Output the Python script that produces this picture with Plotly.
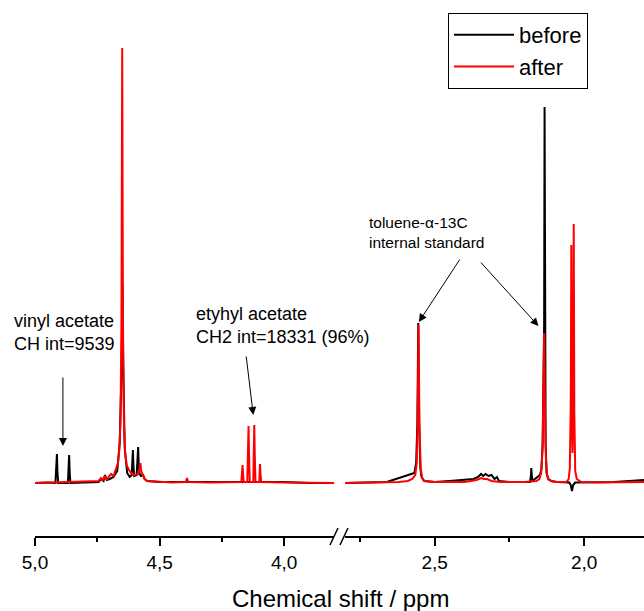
import plotly.graph_objects as go

# ---------------- data ----------------
# intensities in arbitrary units, baseline = 0
before_left_ppm = [5.00, 4.95, 4.918, 4.914, 4.912, 4.910, 4.907, 4.868, 4.865, 4.863, 4.861, 4.858,
                   4.80, 4.745, 4.735, 4.725, 4.719, 4.712, 4.70, 4.685, 4.67, 4.66, 4.652, 4.649,
                   4.646, 4.64, 4.63, 4.62, 4.612, 4.609, 4.607, 4.605, 4.602, 4.592, 4.589, 4.586,
                   4.584, 4.580, 4.575, 4.566, 4.56, 4.55, 4.50, 4.40, 4.20, 4.00, 3.90, 3.80]
before_left_int = [0, 0.5, 0, 14, 29, 12, 0, 0, 14, 28, 12, 0,
                   0.5, 1, 4, 2, 8, 3, 4, 6, 12, 40, 120, 200,
                   120, 35, 10, 6, 8, 20, 33, 18, 7, 8, 22, 36,
                   20, 9, 7, 8, 4, 2, 1, 1, 0.5, 1, 0, 0]

after_left_ppm = [5.00, 4.90, 4.80, 4.745, 4.735, 4.728, 4.72, 4.712, 4.705, 4.695, 4.685, 4.675,
                  4.667, 4.662, 4.657, 4.653, 4.650, 4.647, 4.643, 4.638, 4.632, 4.625, 4.615, 4.60,
                  4.585, 4.580, 4.577, 4.574, 4.568, 4.56, 4.55, 4.50, 4.45, 4.395, 4.390, 4.385,
                  4.30, 4.172, 4.169, 4.167, 4.165, 4.162, 4.148, 4.145, 4.143, 4.141, 4.138,
                  4.124, 4.122, 4.120, 4.118, 4.115, 4.100, 4.098, 4.097, 4.095, 4.092,
                  4.00, 3.90, 3.80]
after_left_int = [0, 0.5, 1, 2, 5, 3, 7, 3, 6, 9, 7, 14,
                  20, 32, 60, 160, 435, 160, 60, 30, 18, 14, 10, 8,
                  9, 14, 20, 12, 8, 4, 2, 1, 0.5, 1, 5, 1,
                  0.5, 1, 10, 18, 9, 1, 1, 30, 57, 28, 1,
                  1, 30, 58, 28, 1, 1, 10, 19, 9, 1,
                  0.5, 0, 0]

before_right_ppm = [2.80, 2.70, 2.66, 2.64, 2.62, 2.60, 2.585, 2.568, 2.562, 2.558, 2.555, 2.552,
                    2.548, 2.544, 2.535, 2.50, 2.45, 2.40, 2.37, 2.355, 2.345, 2.338, 2.33, 2.32,
                    2.31, 2.30, 2.292, 2.285, 2.25, 2.20, 2.181, 2.178, 2.177, 2.175, 2.172, 2.165,
                    2.155, 2.148, 2.143, 2.139, 2.136, 2.134, 2.1325, 2.131, 2.129, 2.126, 2.12,
                    2.11, 2.09, 2.05, 2.045, 2.041, 2.037, 2.03, 1.98, 1.90, 1.85, 1.82, 1.80]
before_right_int = [0, 0.5, 1, 3, 5, 7, 8, 10, 20, 60, 160, 60,
                    15, 6, 2, 1, 2, 3, 4, 6, 9, 7, 9, 7,
                    8, 4, 6, 2, 1, 1, 1, 8, 15, 6, 2, 4,
                    6, 8, 14, 40, 110, 160, 376, 150, 40, 10, 4,
                    2, 1, 0.5, -2, -8, -2, 0.5, 0.5, 1, 2, 3, 3]

after_right_ppm = [2.80, 2.70, 2.62, 2.59, 2.575, 2.565, 2.560, 2.557, 2.554, 2.551, 2.547, 2.542,
                   2.535, 2.50, 2.40, 2.36, 2.345, 2.335, 2.325, 2.31, 2.28, 2.20, 2.16, 2.15,
                   2.144, 2.139, 2.136, 2.134, 2.131, 2.128, 2.124, 2.118, 2.10, 2.06, 2.052, 2.048,
                   2.045, 2.043, 2.041, 2.039, 2.037, 2.035, 2.033, 2.030, 2.025, 2.01, 1.95, 1.85, 1.80]
after_right_int = [0, 0.5, 1, 2, 4, 8, 20, 60, 158, 60, 15, 5,
                   2, 1, 1, 3, 5, 4, 4, 2, 1, 1, 2, 4,
                   10, 35, 90, 150, 70, 25, 8, 3, 1, 1, 4, 15,
                   80, 238, 60, 30, 80, 259, 70, 12, 4, 1, 0.5, 1, 1]

left_tick_vals = [5.0, 4.5, 4.0]
left_tick_text = ["5,0", "4,5", "4,0"]
left_minor_vals = [4.75, 4.25]
right_tick_vals = [2.5, 2.0]
right_tick_text = ["2,5", "2,0"]
right_minor_vals = [2.75, 2.25]

series_names = ["before", "after"]
series_colors = ["#000000", "#ff0000"]

# ---------------- figure ----------------
W, H = 644, 611
FONT = "Liberation Sans, Arial, Helvetica, sans-serif"
PLOT_BOTTOM = 536  # pixel row of the x axis
BOTTOM_MARGIN = H - PLOT_BOTTOM


def py2paper(py):
    return (PLOT_BOTTOM - py) / PLOT_BOTTOM


fig = go.Figure()

data_sets = [
    (before_left_ppm, before_left_int, before_right_ppm, before_right_int),
    (after_left_ppm, after_left_int, after_right_ppm, after_right_int),
]
for (lx, ly, rx, ry), name, color in zip(data_sets, series_names, series_colors):
    fig.add_trace(go.Scatter(x=lx, y=ly, xaxis="x", yaxis="y", mode="lines", name=name,
                             legendgroup=name, showlegend=True,
                             line=dict(color=color, width=2)))
    fig.add_trace(go.Scatter(x=rx, y=ry, xaxis="x2", yaxis="y", mode="lines", name=name,
                             legendgroup=name, showlegend=False,
                             line=dict(color=color, width=2)))

axis_common = dict(
    showline=True, linecolor="black", linewidth=1.5,
    ticks="outside", ticklen=8, tickwidth=1.5, tickcolor="black",
    showgrid=False, zeroline=False, anchor="y", automargin=False,
    tickfont=dict(family=FONT, size=19, color="black"),
)

fig.update_layout(
    template="none",
    width=W, height=H, autosize=False,
    margin=dict(l=0, r=0, t=0, b=BOTTOM_MARGIN, pad=0, autoexpand=False),
    paper_bgcolor="white", plot_bgcolor="white",
    font=dict(family=FONT, color="black"),
    xaxis=dict(domain=[35 / W, 334 / W], range=[5.0, 3.8], tickmode="array",
               tickvals=left_tick_vals, ticktext=left_tick_text,
               minor=dict(tickmode="array", tickvals=left_minor_vals, ticks="outside",
                          ticklen=4, tickwidth=1.5, tickcolor="black"),
               **axis_common),
    xaxis2=dict(domain=[345 / W, 1.0], range=[2.8, 1.8], tickmode="array",
                tickvals=right_tick_vals, ticktext=right_tick_text,
                minor=dict(tickmode="array", tickvals=right_minor_vals, ticks="outside",
                           ticklen=4, tickwidth=1.5, tickcolor="black"),
                **axis_common),
    yaxis=dict(domain=[0, 1], range=[-53, 483], visible=False, fixedrange=True,
               automargin=False),
    showlegend=True,
    legend=dict(x=448 / W, y=py2paper(13), xanchor="left", yanchor="top",
                bordercolor="black", borderwidth=1, bgcolor="white",
                font=dict(family=FONT, size=22, color="black"),
                itemwidth=60, tracegroupgap=0),
)

# axis break marks "//"
for x0, x1 in [(330, 338), (340, 348)]:
    fig.add_shape(type="line", xref="paper", yref="paper",
                  x0=x0 / W, y0=py2paper(545), x1=x1 / W, y1=py2paper(528),
                  line=dict(color="black", width=1.5))

# axis title
fig.add_annotation(text="Chemical shift / ppm", xref="paper", yref="paper",
                   x=340 / W, y=py2paper(598), xanchor="center", yanchor="middle",
                   showarrow=False, font=dict(family=FONT, size=24, color="black"))

# text labels
labels = [
    ("vinyl acetate<br>CH int=9539", 12, 333, 18),
    ("etyhyl acetate<br>CH2 int=18331 (96%)", 194, 326, 18),
    ("toluene-α-13C<br>internal standard", 367, 233, 15.5),
]
for txt, px, pyc, fs in labels:
    fig.add_annotation(text=txt, xref="paper", yref="paper", x=px / W, y=py2paper(pyc),
                       xanchor="left", yanchor="middle", align="left", showarrow=False,
                       font=dict(family=FONT, size=fs, color="black"))

# arrows (tail -> head, in data coordinates)
arrows = [
    ("x", 4.888, 107, 4.888, 37),
    ("x", 4.153, 128, 4.124, 68),
    ("x2", 2.413, 225, 2.553, 161),
    ("x2", 2.350, 222, 2.153, 157),
]
for xr, tx, ty, hx, hy in arrows:
    fig.add_annotation(xref=xr, yref="y", axref=xr, ayref="y", x=hx, y=hy, ax=tx, ay=ty,
                       text="", showarrow=True, arrowhead=2, arrowsize=1.6, arrowwidth=1,
                       arrowcolor="black", standoff=0, startstandoff=0)

fig.write_html("out.html", config={"displayModeBar": False},
               post_script="document.body.style.margin='0';document.body.style.overflow='hidden';")
